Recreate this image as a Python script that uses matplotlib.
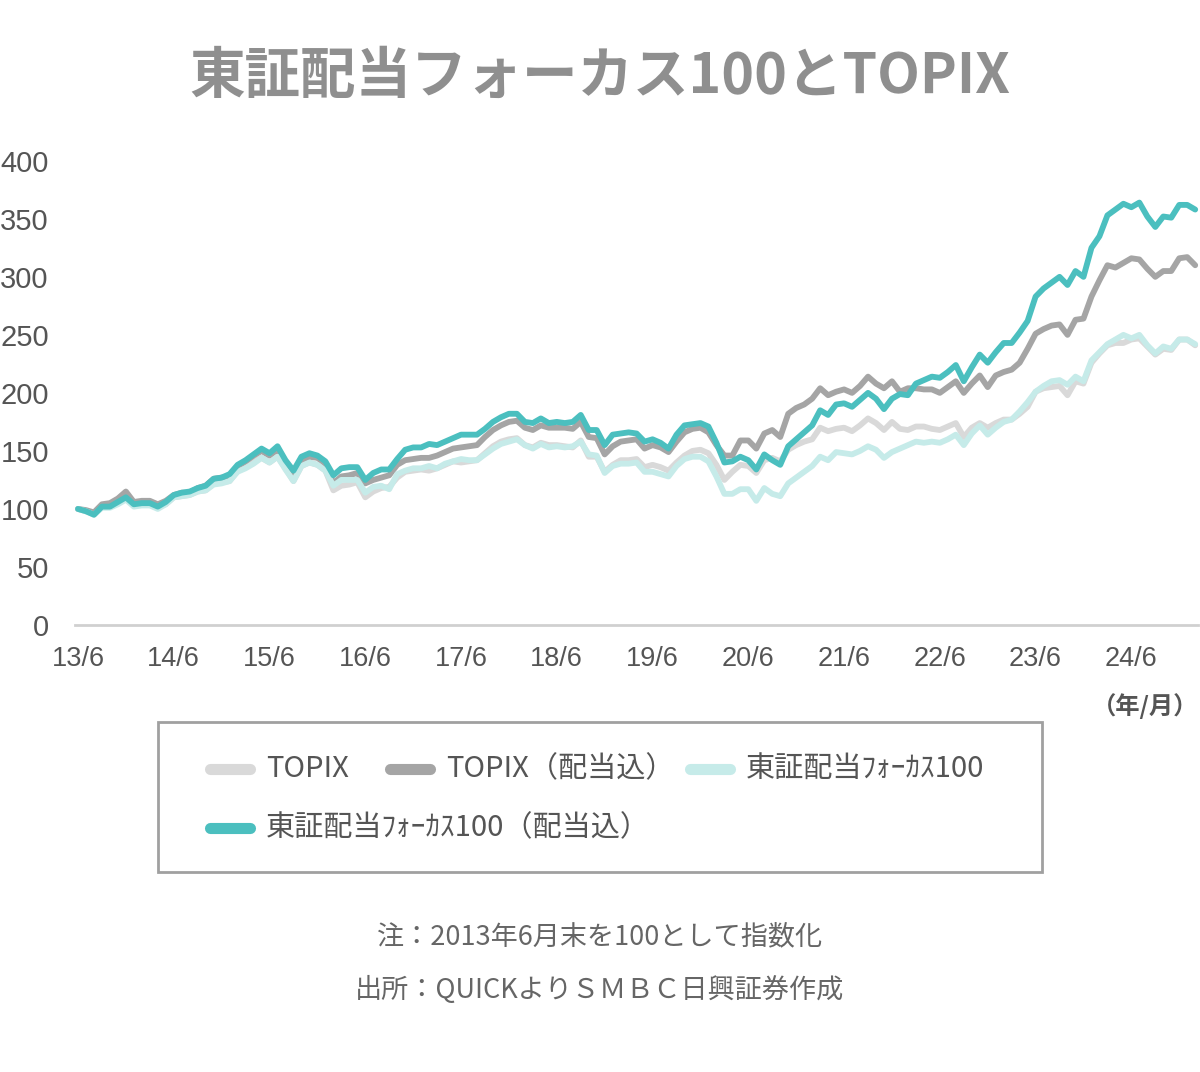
import numpy as np
import matplotlib
matplotlib.use("Agg")
import matplotlib.pyplot as plt
from matplotlib.lines import Line2D
from matplotlib.patches import Rectangle

plt.rcParams['font.family'] = ['Noto Sans CJK JP', 'DejaVu Sans']

# monthly index values, 2013/6 = 100 (m0) .. 2025/2 (m140)
topix = [
    100, 98, 96, 103, 104, 108, 114, 104, 105, 105, 102, 104,
    110, 111, 112, 115, 116, 122, 123, 124, 133, 137, 141, 144,
    140, 145, 135, 124, 137, 140, 138, 133, 116, 120, 121, 123,
    110, 115, 118, 119, 127, 132, 133, 134, 133, 135, 138, 141,
    140, 141, 142, 148, 154, 158, 160, 161, 155, 153, 157, 155,
    155, 154, 153, 159, 145, 145, 132, 138, 142, 142, 143, 136,
    138, 136, 133, 140, 146, 150, 151, 148, 138, 125, 132, 138,
    137, 131, 142, 144, 141, 151, 155, 158, 160, 170, 167, 169,
    170, 167, 172, 178, 174, 168, 175, 169, 168, 171, 171, 169,
    168, 171, 174, 162, 170, 174, 170, 174, 177, 177, 182, 188,
    201, 204, 205, 206, 198, 210, 208, 226, 234, 241, 243, 243,
    246, 247, 240, 233, 238, 237, 246, 246, 241,
]
topix_div = [
    100, 99, 97, 104, 105, 109, 115, 106, 107, 107, 104, 107,
    112, 114, 114, 118, 120, 126, 127, 128, 137, 141, 146, 150,
    146, 151, 140, 129, 142, 145, 144, 139, 122, 128, 129, 131,
    122, 125, 127, 129, 138, 142, 143, 144, 144, 146, 149, 152,
    153, 154, 155, 162, 168, 172, 175, 176, 170, 168, 172, 170,
    170, 170, 169, 175, 162, 161, 147, 154, 158, 159, 160, 152,
    155, 153, 149, 158, 166, 169, 170, 166, 155, 146, 146, 159,
    159, 152, 165, 168, 162, 182, 187, 190, 195, 204, 198, 201,
    203, 200, 206, 214, 208, 204, 210, 201, 204, 204, 203, 203,
    200, 205, 210, 200, 208, 215, 205, 215, 218, 220, 226, 238,
    251, 255, 258, 259, 250, 263, 264, 283, 297, 310, 308, 312,
    316, 315, 307, 300, 305, 305, 316, 317, 310,
]
focus = [
    100, 98, 95, 101, 101, 104, 108, 102, 103, 103, 100, 104,
    110, 111, 112, 115, 116, 121, 122, 124, 132, 135, 139, 144,
    140, 145, 134, 124, 137, 140, 138, 133, 120, 125, 125, 125,
    114, 119, 120, 117, 130, 133, 135, 135, 137, 135, 139, 141,
    143, 142, 142, 147, 152, 156, 158, 160, 155, 152, 156, 153,
    154, 153, 154, 158, 147, 146, 131, 137, 139, 139, 140, 132,
    132, 130, 128, 137, 143, 145, 145, 141, 128, 113, 113, 117,
    117, 107, 118, 113, 111, 122, 127, 132, 137, 145, 142, 149,
    148, 147, 150, 154, 151, 144, 149, 152, 155, 158, 157, 158,
    157, 160, 164, 155, 165, 172, 164, 170, 175, 177, 184, 192,
    201, 206, 210, 211, 207, 214, 210, 228, 235, 242, 246, 250,
    247, 250, 241, 234, 240, 238, 246, 246, 242,
]
focus_div = [
    100, 98, 95, 102, 102, 106, 110, 104, 105, 105, 102, 106,
    112, 114, 115, 118, 120, 126, 127, 130, 138, 142, 147, 152,
    148, 154, 142, 133, 145, 148, 146, 141, 129, 135, 136, 136,
    125, 131, 134, 134, 143, 151, 153, 153, 156, 155, 158, 161,
    164, 164, 164, 169, 175, 179, 182, 182, 175, 174, 178, 174,
    175, 174, 175, 181, 168, 168, 155, 164, 165, 166, 165, 158,
    160, 157, 152, 164, 172, 173, 174, 171, 157, 140, 141, 145,
    142, 134, 147, 142, 138, 154, 160, 166, 172, 185, 181, 190,
    191, 188, 194, 200, 195, 186, 195, 199, 198, 208, 211, 214,
    213, 218, 224, 210, 222, 233, 226, 235, 243, 243, 252, 262,
    283, 290, 295, 300, 293, 305, 300, 325, 335, 353, 358, 363,
    360, 364, 352, 343, 352, 351, 362, 362, 358,
]
tick_labels = ["13/6", "14/6", "15/6", "16/6", "17/6", "18/6",
               "19/6", "20/6", "21/6", "22/6", "23/6", "24/6"]
yticks = [0, 50, 100, 150, 200, 250, 300, 350, 400]

names = ["TOPIX", "TOPIX（配当込）", "東証配当ﾌｫｰｶｽ100", "東証配当ﾌｫｰｶｽ100（配当込）"]
colors = ["#d9d9d9", "#a5a5a5", "#c6ebe9", "#4bbfbf"]
series = [topix, topix_div, focus, focus_div]

fig = plt.figure(figsize=(12, 10.72), dpi=100)
ax = fig.add_axes([0.065, 0.417, 0.933, 0.433])

x = np.arange(len(topix))
for vals, c in zip(series, colors):
    ax.plot(x, vals, color=c, lw=4.2, solid_joinstyle="round",
            solid_capstyle="round", clip_on=False)

ax.set_xlim(0, 140.3)
ax.set_ylim(0, 400)
ax.set_xticks(np.arange(0, 12 * len(tick_labels), 12))
ax.set_xticklabels(tick_labels, family=["Liberation Sans"], fontsize=19.5, color="#555555")
ax.set_yticks(yticks)
ax.set_yticklabels([str(v) for v in yticks], family=["Liberation Sans"], fontsize=21,
                   color="#555555")
ax.tick_params(axis="both", length=0)
ax.tick_params(axis="x", pad=15)
ax.tick_params(axis="y", pad=21)
for s in ["top", "right", "left"]:
    ax.spines[s].set_visible(False)
ax.spines["bottom"].set_color("#d0d0d0")
ax.spines["bottom"].set_linewidth(2)
ax.spines["bottom"].set_bounds(-0.4, 140.3)

fig.text(0.5, 0.928, "東証配当フォーカス100とTOPIX", ha="center", va="center",
         fontsize=40, fontweight="bold", color="#8f8f8f")
fig.text(0.9985, 0.341, "（年/月）", ha="right", va="center", fontsize=17.5,
         fontweight="bold", color="#555555")

# legend box drawn by hand (entries flow, not grid)
W, H = 1200, 1072
fig.patches.append(Rectangle((158 / W, 1 - 872 / H), 884 / W, 150 / H,
                             transform=fig.transFigure, fill=False,
                             edgecolor="#a0a0a0", lw=2))
entries = [(210, 769), (390, 769), (690, 769), (210, 828)]
for (px, py), name, c in zip(entries, names, colors):
    fig.lines.append(Line2D([px / W, (px + 40) / W], [1 - py / H, 1 - py / H],
                            transform=fig.transFigure, color=c, lw=8,
                            solid_capstyle="round"))
    fig.text((px + 56) / W, 1 - py / H, name, ha="left", va="center",
             fontsize=21, color="#555555")

fig.text(0.5, 1 - 937 / H, "注：2013年6月末を100として指数化", ha="center",
         va="center", fontsize=19.5, color="#666666")
fig.text(0.5, 1 - 990 / H, "出所：QUICKよりＳＭＢＣ日興証券作成", ha="center",
         va="center", fontsize=19.5, color="#666666")

fig.savefig("out.png", dpi=100)
